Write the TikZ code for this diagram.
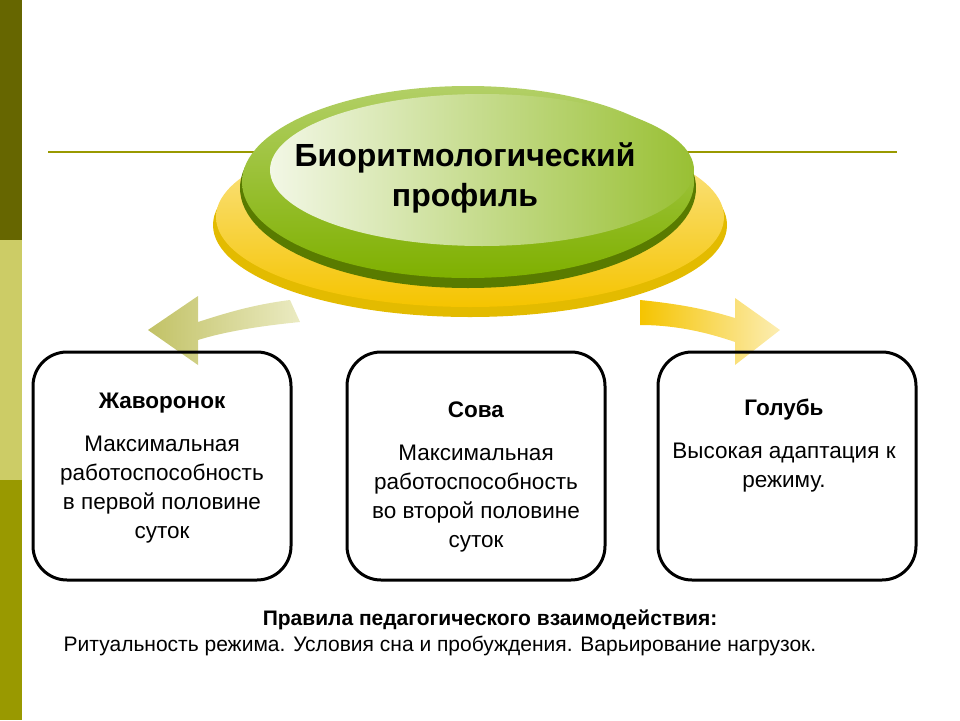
\documentclass[tikz,border=0pt]{standalone}
\usepackage{fontspec}
\setmainfont{Liberation Sans}
\usetikzlibrary{shapes.geometric,shapes.arrows}
\definecolor{olivedark}{HTML}{666600}
\definecolor{olivelight}{HTML}{CCCC66}
\definecolor{olivemid}{HTML}{999900}
\definecolor{leafgreen}{HTML}{7FB000}
\definecolor{goldy}{HTML}{F5C400}
\tikzset{
  card/.style={draw,line width=3pt,rounded corners=34pt,minimum width=258pt,minimum height=228pt},
  cardtext/.style={align=center,font=\fontsize{22.5}{29}\selectfont},
}
\begin{document}
\begin{tikzpicture}[x=1pt,y=-1pt]
        \useasboundingbox (0,0) rectangle (960,720);
        % Side bar
        \fill[olivedark] (0,0) rectangle (22,240);
        \fill[olivelight] (0,240) rectangle (22,480);
        \fill[olivemid] (0,480) rectangle (22,720);
        % Rule
        \draw[olivemid,line width=1.2pt] (48,152) -- (897,152);

        % Arrows
        \shade[left color=olivemid!60,right color=olivelight!40] (290,300) .. controls (250,305) and (220,315) .. (198,322) -- (198,296) -- (148,330) -- (198,365) -- (198,340) .. controls (230,330) and (270,325) .. (300,322) -- cycle;
        \shade[left color=goldy,right color=goldy!30] (640,300) .. controls (690,305) and (715,312) .. (735,318) -- (735,298) -- (780,330) -- (735,365) -- (735,342) .. controls (700,330) and (670,325) .. (640,325) -- cycle;

        % Ellipses
        \fill[goldy!80!olivemid] (470,225) ellipse (257pt and 92pt);
        \shade[top color=goldy!40,bottom color=goldy] (470,217) ellipse (254pt and 90pt);
        \fill[leafgreen!70!black] (468,188) ellipse (228pt and 100pt);
        \shade[top color=leafgreen!60,bottom color=leafgreen] (468,182) ellipse (226pt and 96pt);
        \shade[left color=white!90!leafgreen,right color=leafgreen!80] (482,170) ellipse (212pt and 76pt);
        \node[align=center,font=\bfseries\fontsize{32}{40}\selectfont] (profile) at (465,178) {Биоритмологический\\профиль};

        % Cards
        \node[card] (lark) at (162,466) {};
        \node[card] (owl) at (476,466) {};
        \node[card] (dove) at (787,466) {};
        \node[cardtext] (larkt) at (162,468) {\textbf{Жаворонок}\\[14pt]Максимальная\\работоспособность\\в первой половине\\суток};
        \node[cardtext] (owlt) at (476,477) {\textbf{Сова}\\[14pt]Максимальная\\работоспособность\\во второй половине\\суток};
        \node[cardtext] (dovet) at (784,446) {\textbf{Голубь}\\[14pt]Высокая адаптация к\\режиму.};

        % Bottom text
        \node[font=\bfseries\fontsize{21}{24}\selectfont] (rules) at (490,620) {Правила педагогического взаимодействия:};
        \node[font=\fontsize{21}{24}\selectfont] (rulest) at (440,646) {Ритуальность режима. Условия сна и пробуждения. Варьирование нагрузок.};
\end{tikzpicture}
\end{document}
